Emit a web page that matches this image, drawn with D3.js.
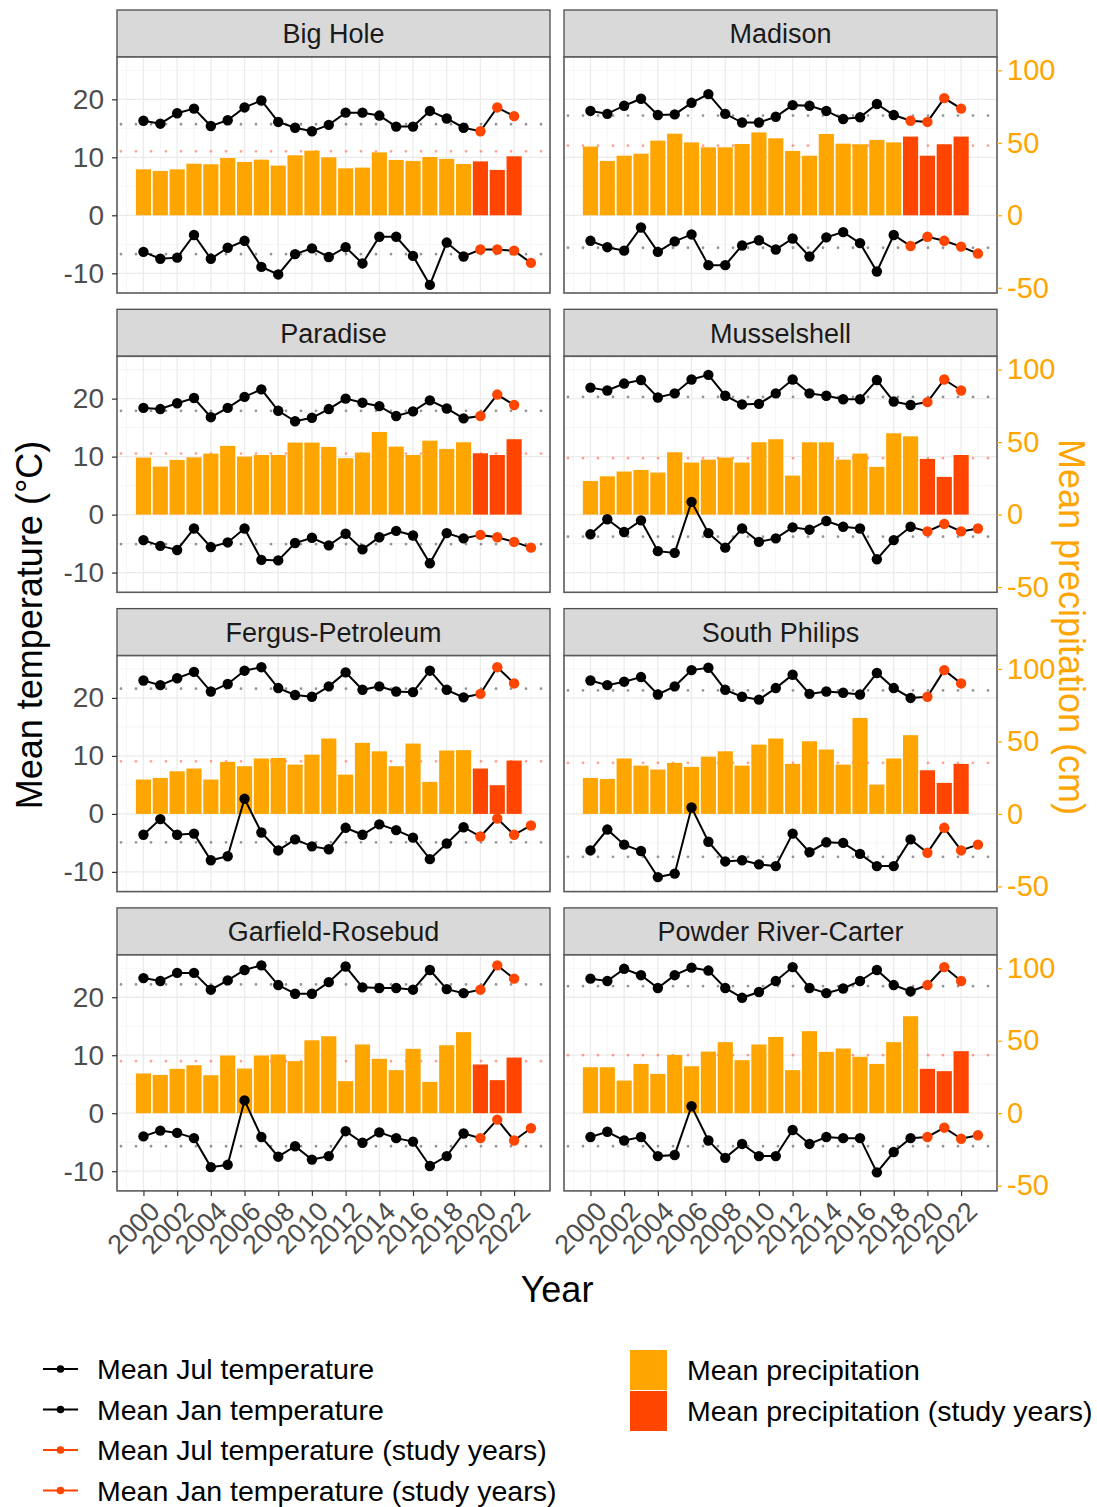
<!DOCTYPE html>
<html><head><meta charset="utf-8">
<script src="https://cdn.jsdelivr.net/npm/d3@7"></script>
<style>
body{margin:0;background:#fff;}
text{font-family:"Liberation Sans",Arial,sans-serif;}
</style></head>
<body><svg id="c" width="1097" height="1507"></svg>
<script>
const sites = ["Big Hole","Madison","Paradise","Musselshell","Fergus-Petroleum","South Philips","Garfield-Rosebud","Powder River-Carter"];
const julYears = [2000,2001,2002,2003,2004,2005,2006,2007,2008,2009,2010,2011,2012,2013,2014,2015,2016,2017,2018,2019,2020,2021,2022];
const janYears = [2000,2001,2002,2003,2004,2005,2006,2007,2008,2009,2010,2011,2012,2013,2014,2015,2016,2017,2018,2019,2020,2021,2022,2023];
const precipYears = julYears;
const studyStart = [2020,2019,2020,2020,2020,2020,2020,2020];

const julTemp = [
 [16.3,15.8,17.6,18.4,15.4,16.4,18.6,19.8,16.1,15.1,14.5,15.6,17.7,17.7,17.2,15.3,15.3,18.0,16.7,15.1,14.5,18.6,17.1],
 [18.0,17.5,18.9,20.1,17.3,17.4,19.4,20.9,17.5,16.0,16.0,17.0,19.0,18.9,18.0,16.6,16.9,19.2,17.3,16.3,16.1,20.2,18.4],
 [18.4,18.2,19.2,20.1,16.8,18.4,20.3,21.6,17.9,16.1,16.7,18.2,20.0,19.3,18.7,17.0,17.8,19.7,18.3,16.6,17.0,20.7,18.9],
 [21.9,21.4,22.6,23.2,20.2,20.9,23.3,24.1,20.5,19.0,19.1,20.9,23.3,20.9,20.5,19.9,19.9,23.2,19.5,18.9,19.4,23.3,21.4],
 [23.0,22.2,23.4,24.5,21.1,22.4,24.7,25.3,21.7,20.5,20.2,22.0,24.4,21.4,22.0,21.1,21.0,24.7,21.4,20.1,20.7,25.3,22.5],
 [23.0,22.2,22.8,23.6,20.6,22.0,24.8,25.2,21.4,20.2,19.7,21.7,24.0,20.7,21.1,20.9,20.6,24.3,21.7,20.0,20.2,24.8,22.5],
 [23.3,22.8,24.2,24.2,21.3,22.9,24.7,25.5,22.1,20.6,20.6,22.6,25.3,21.7,21.6,21.6,21.3,24.7,21.4,20.7,21.3,25.5,23.2],
 [23.2,22.8,24.9,23.8,21.6,23.8,25.1,24.6,21.6,19.9,20.9,22.8,25.2,21.6,20.7,21.5,22.8,24.7,22.1,21.0,22.1,25.2,22.8]
];
const janTemp = [
 [-6.3,-7.5,-7.3,-3.4,-7.5,-5.6,-4.4,-8.9,-10.2,-6.7,-5.7,-7.2,-5.5,-8.3,-3.7,-3.7,-7.0,-12.0,-4.7,-7.1,-5.9,-5.9,-6.1,-8.2],
 [-4.4,-5.5,-6.1,-2.1,-6.3,-4.5,-3.3,-8.6,-8.6,-5.2,-4.3,-5.9,-4.0,-7.1,-3.8,-2.9,-4.8,-9.7,-3.4,-5.3,-3.7,-4.4,-5.4,-6.6],
 [-4.4,-5.4,-6.1,-2.4,-5.6,-4.8,-2.4,-7.8,-7.9,-4.9,-4.0,-5.3,-3.3,-6.0,-3.9,-2.8,-3.6,-8.4,-3.2,-4.1,-3.5,-3.9,-4.7,-5.7],
 [-3.4,-0.8,-3.0,-1.0,-6.3,-6.6,2.2,-3.2,-5.7,-2.4,-4.7,-4.1,-2.2,-2.6,-1.1,-2.1,-2.4,-7.7,-4.4,-2.1,-2.9,-1.6,-2.9,-2.4],
 [-3.6,-0.9,-3.6,-3.4,-8.0,-7.3,2.6,-3.2,-6.3,-4.4,-5.6,-6.1,-2.4,-3.6,-1.8,-2.8,-4.1,-7.8,-5.1,-2.3,-3.9,-0.8,-3.6,-2.0],
 [-6.3,-2.7,-5.3,-6.4,-10.9,-10.3,1.1,-4.8,-8.2,-8.0,-8.7,-9.0,-3.4,-6.6,-4.9,-5.0,-6.9,-9.0,-9.0,-4.4,-6.7,-2.4,-6.3,-5.3],
 [-4.0,-3.0,-3.4,-4.3,-9.3,-8.9,2.2,-4.1,-7.5,-5.7,-8.0,-7.4,-3.1,-5.1,-3.3,-4.3,-4.9,-9.1,-7.4,-3.5,-4.3,-1.1,-4.7,-2.6],
 [-4.1,-3.2,-4.7,-4.1,-7.4,-7.2,1.2,-4.7,-7.7,-5.3,-7.4,-7.4,-2.9,-5.3,-4.1,-4.3,-4.3,-10.2,-6.7,-4.3,-4.1,-2.5,-4.4,-3.8]
];
const precip = [
 [31.7,30.6,31.7,35.6,35.2,39.5,36.8,38.4,34.3,41.4,44.6,40.0,32.4,32.9,43.4,38.2,37.5,40.2,38.9,35.4,37.2,31.3,40.7],
 [47.4,37.5,41.1,42.5,51.5,56.3,50.3,46.9,46.9,49.2,57.2,53.1,44.4,41.1,56.1,49.4,49.0,52.0,50.3,54.3,41.1,49.0,54.3],
 [39.3,33.1,37.7,39.5,42.1,47.4,40.0,41.1,41.1,49.7,49.7,46.7,38.9,42.8,57.0,46.9,41.1,51.0,45.3,49.9,42.3,41.1,52.0],
 [23.2,26.4,29.7,30.8,29.0,43.0,35.9,37.9,39.3,35.9,49.9,52.0,26.9,49.9,49.9,37.9,42.1,32.9,56.1,54.0,38.4,26.0,41.1],
 [23.7,24.8,29.4,31.3,23.7,35.9,32.9,38.2,38.6,34.0,40.9,52.0,27.1,49.0,43.2,32.9,48.5,22.1,43.7,44.0,31.3,19.8,36.8],
 [24.8,24.1,38.2,33.3,30.6,35.2,32.4,39.5,43.2,33.3,47.8,52.0,34.5,50.1,44.4,34.0,66.2,20.2,38.2,54.3,30.1,21.4,34.5],
 [27.4,26.4,30.6,33.1,26.2,39.8,30.8,39.8,40.5,35.9,50.3,53.1,22.1,47.4,37.5,29.7,44.4,21.6,46.9,55.9,33.6,22.8,38.4],
 [31.7,31.7,22.5,34.0,27.1,40.2,32.4,42.5,49.0,36.6,47.4,52.6,29.7,56.6,42.3,44.6,38.9,34.0,49.0,66.9,30.6,29.0,42.8]
];
const julMean = [15.7,17.2,17.9,20.3,21.6,21.3,22.2,21.9];
const janMean = [-6.7,-5.6,-5.1,-3.8,-4.9,-7.4,-5.7,-5.7];
const precipMean = [44.1,48.0,42.1,38.9,36.3,35.2,35.9,40.0];

const tempTicks = [-10,0,10,20];
const precipTicks = [-50,0,50,100];
const yearTicks = [2000,2002,2004,2006,2008,2010,2012,2014,2016,2018,2020,2022];
const legendLines = ["Mean Jul temperature","Mean Jan temperature","Mean Jul temperature (study years)","Mean Jan temperature (study years)"];
const legendBars = ["Mean precipitation","Mean precipitation (study years)"];

const ORANGE = "#FFA500", RED = "#FF4500";
const svg = d3.select("#c");
const PW = 433, PH = 236, STRIP = 47;
const colX = [117, 564];
const rowY = r => 57 + r * 299.3;
const PRATIO = 4;
const fmt = d => String(d);

sites.forEach((name, i) => {
  const col = i % 2, row = Math.floor(i / 2);
  const x0 = colX[col], y0 = rowY(row);
  const x = d3.scaleLinear().domain([1998.43, 2024.13]).range([x0, x0 + PW]);
  const y = d3.scaleLinear().domain([-13.4, 27.3]).range([y0 + PH, y0]);
  const yP = d3.scaleLinear().domain([-13.4 * PRATIO, 27.3 * PRATIO]).range([y0 + PH, y0]);
  const g = svg.append("g");

  // strip
  g.append("rect").attr("x", x0).attr("y", y0 - STRIP).attr("width", PW).attr("height", STRIP)
    .attr("fill", "#D9D9D9").attr("stroke", "#4d4d4d").attr("stroke-width", 1.3);
  g.append("text").attr("x", x0 + PW / 2).attr("y", y0 - STRIP / 2).attr("dy", "0.36em")
    .attr("text-anchor", "middle").attr("font-size", 27).attr("fill", "#1A1A1A").text(name);

  // panel bg & grid
  g.append("rect").attr("x", x0).attr("y", y0).attr("width", PW).attr("height", PH).attr("fill", "#fff");
  const minorY = [-5, 5, 15, 25], minorX = d3.range(1999, 2024, 2);
  g.selectAll(".gmy").data(minorY).join("line").attr("x1", x0).attr("x2", x0 + PW)
    .attr("y1", d => y(d)).attr("y2", d => y(d)).attr("stroke", "#F2F2F2").attr("stroke-width", 0.8);
  g.selectAll(".gmx").data(minorX).join("line").attr("y1", y0).attr("y2", y0 + PH)
    .attr("x1", d => x(d)).attr("x2", d => x(d)).attr("stroke", "#F2F2F2").attr("stroke-width", 0.8);
  g.selectAll(".gy").data(tempTicks).join("line").attr("x1", x0).attr("x2", x0 + PW)
    .attr("y1", d => y(d)).attr("y2", d => y(d)).attr("stroke", "#EBEBEB").attr("stroke-width", 1.3);
  g.selectAll(".gx").data(yearTicks).join("line").attr("y1", y0).attr("y2", y0 + PH)
    .attr("x1", d => x(d)).attr("x2", d => x(d)).attr("stroke", "#EBEBEB").attr("stroke-width", 1.3);

  // dotted mean lines
  const dotted = (yy, color, op) => g.append("line").attr("x1", x0 + 4).attr("x2", x0 + PW)
    .attr("y1", yy).attr("y2", yy).attr("stroke", color).attr("stroke-width", 2.8).attr("opacity", op)
    .attr("stroke-linecap", "round").attr("stroke-dasharray", "0,15");
  dotted(y(julMean[i]), "#8a8a8a", 0.9);
  dotted(y(janMean[i]), "#8a8a8a", 0.9);
  dotted(yP(precipMean[i]), "#FF6347", 0.6);

  // bars
  const bw = 0.9;
  g.selectAll(".bar").data(precipYears.map((yr, k) => ({yr, v: precip[i][k]}))).join("rect")
    .attr("x", d => x(d.yr - bw / 2)).attr("width", d => x(d.yr + bw / 2) - x(d.yr - bw / 2))
    .attr("y", d => yP(d.v)).attr("height", d => yP(0) - yP(d.v))
    .attr("fill", d => d.yr >= studyStart[i] ? RED : ORANGE);

  // lines + points
  const line = d3.line().x(d => x(d.yr)).y(d => y(d.v));
  const jul = julYears.map((yr, k) => ({yr, v: julTemp[i][k]}));
  const jan = janYears.map((yr, k) => ({yr, v: janTemp[i][k]}));
  [jul, jan].forEach(series => {
    g.append("path").attr("d", line(series)).attr("fill", "none").attr("stroke", "#000").attr("stroke-width", 2);
    g.selectAll(null).data(series).join("circle").attr("cx", d => x(d.yr)).attr("cy", d => y(d.v))
      .attr("r", 5.2).attr("fill", d => d.yr >= studyStart[i] ? RED : "#000");
  });

  // border
  g.append("rect").attr("x", x0).attr("y", y0).attr("width", PW).attr("height", PH)
    .attr("fill", "none").attr("stroke", "#5a5a5a").attr("stroke-width", 1.6);

  if (col === 0) {
    const ax = g.append("g").attr("transform", `translate(${x0},0)`)
      .call(d3.axisLeft(y).tickValues(tempTicks).tickSize(5).tickPadding(8).tickFormat(fmt));
    ax.select(".domain").remove();
    ax.selectAll("line").attr("stroke", "#333").attr("stroke-width", 1.2);
    ax.selectAll("text").attr("font-size", 28).attr("fill", "#4D4D4D").attr("font-family", null);
  } else {
    const ax = g.append("g").attr("transform", `translate(${x0 + PW},0)`)
      .call(d3.axisRight(yP).tickValues(precipTicks).tickSize(5).tickPadding(5).tickFormat(fmt));
    ax.select(".domain").remove();
    ax.selectAll("line").attr("stroke", ORANGE).attr("stroke-width", 1.2);
    ax.selectAll("text").attr("font-size", 29).attr("fill", ORANGE).attr("font-family", null);
  }
  if (row === 3) {
    const ax = g.append("g").attr("transform", `translate(0,${y0 + PH})`)
      .call(d3.axisBottom(x).tickValues(yearTicks).tickSize(5).tickFormat(fmt));
    ax.select(".domain").remove();
    ax.selectAll("line").attr("stroke", "#333").attr("stroke-width", 1.2);
    ax.selectAll("text").attr("font-size", 27).attr("fill", "#4D4D4D").attr("font-family", null)
      .attr("text-anchor", "end").attr("dy", "0.75em").attr("y", 0)
      .attr("transform", "translate(3,8) rotate(-45)");
  }
});

// axis titles
svg.append("text").attr("transform", "translate(42,625) rotate(-90)").attr("text-anchor", "middle")
  .attr("font-size", 36).attr("fill", "#000").text("Mean temperature (°C)");
svg.append("text").attr("transform", "translate(1059,627) rotate(90)").attr("text-anchor", "middle")
  .attr("font-size", 36).attr("fill", ORANGE).text("Mean precipitation (cm)");
svg.append("text").attr("x", 557).attr("y", 1302).attr("text-anchor", "middle")
  .attr("font-size", 36).attr("fill", "#000").text("Year");

// legend
const lg = svg.append("g");
legendLines.forEach((t, k) => {
  const cy = 1369 + k * 40.5;
  const c = k < 2 ? "#000" : RED;
  lg.append("line").attr("x1", 43).attr("x2", 78).attr("y1", cy).attr("y2", cy).attr("stroke", c).attr("stroke-width", 2);
  lg.append("circle").attr("cx", 60.5).attr("cy", cy).attr("r", 3.8).attr("fill", c);
  lg.append("text").attr("x", 97).attr("y", cy).attr("dy", "0.36em").attr("font-size", 28.5).attr("fill", "#000").text(t);
});
legendBars.forEach((t, k) => {
  const cy = 1370 + k * 41;
  lg.append("rect").attr("x", 630).attr("y", cy - 20).attr("width", 37).attr("height", 40).attr("fill", k === 0 ? ORANGE : RED);
  lg.append("text").attr("x", 687).attr("y", cy).attr("dy", "0.36em").attr("font-size", 28.5).attr("fill", "#000").text(t);
});
</script></body></html>
